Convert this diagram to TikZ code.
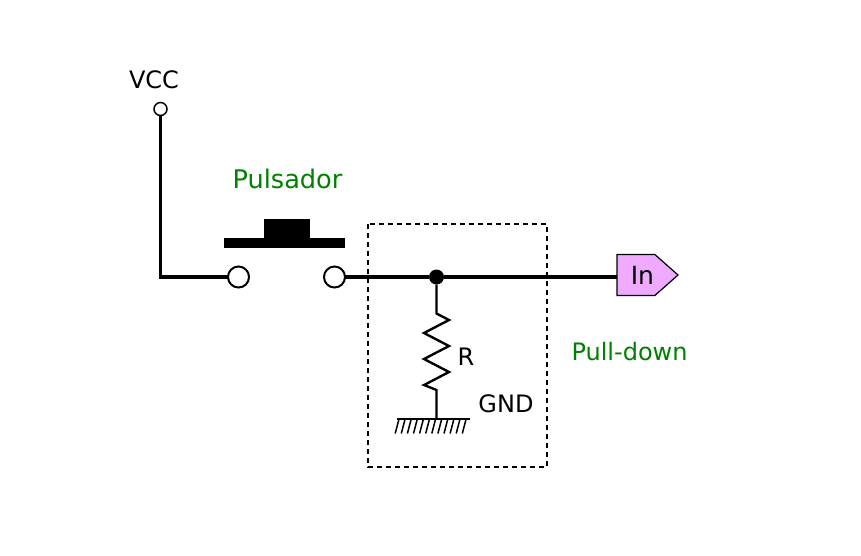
\documentclass[tikz,border=0pt]{standalone}
\usepackage{fontspec}
\setmainfont{DejaVu Sans}
\usepackage{xcolor}
\usetikzlibrary{shapes.symbols}
\definecolor{labelgreen}{RGB}{0,128,0}
\definecolor{inpink}{RGB}{238,170,255}
\tikzset{
  wire/.style={line width=3.6pt},
  thinwire/.style={line width=2.4pt},
  term/.style={circle,draw,fill=white,line width=2pt,minimum size=21pt,inner sep=0pt,outer sep=0pt},
  lbl/.style={inner sep=0pt,font=\fontsize{24}{28}\selectfont},
  greenlbl/.style={lbl,text=labelgreen},
}
\begin{document}
\begin{tikzpicture}[x=1pt,y=-1pt]
\useasboundingbox (0,0) rectangle (861,555);
\def\gndy{419}
% wires first, the terminals sit on top
  \coordinate (rtop) at (436.5,313.5);
  \coordinate (rbot) at (436.5,390);
  \coordinate (gnd) at (436.5,\gndy);
  \coordinate (gndl) at (397,\gndy);
  \coordinate (gndr) at (469.5,\gndy);
  \node[term,line width=1.5pt,minimum size=13pt] (vcc) at (160.5,109) {};
  \node[term] (swl) at (238.5,277) {};
  \node[term] (swr) at (334.5,277) {};
  \node[circle,fill,minimum size=15pt,inner sep=0pt] (junc) at (436.5,277) {};
  \node[signal,signal to=east,signal pointer angle=83,draw,fill=inpink,line width=1.2pt,
        minimum width=61pt,minimum height=41pt,inner sep=0pt,outer sep=0pt,anchor=west,
        font=\fontsize{25}{28}\selectfont] (in) at (617,275) {\hspace{13pt}In};
  \draw[wire,line join=miter] (vcc) |- (swl);
  \draw[wire] (swr) -- (junc) -- (in.west |- junc);
  % resistor
  \draw[thinwire] (junc) -- (rtop) -- ++(12.5,6.5)
        -- ++(-25,13) -- ++(25,13) -- ++(-25,13) -- ++(25,13) -- ++(-25,13)
        -- (rbot) -- (gnd);
  % ground
  \draw[thinwire] (gndl) -- (gndr);
  \foreach \i in {0,...,11}
    \draw[line width=1.5pt] (399+6.1*\i,\gndy) -- ++(-3.8,14.5);
  % push button
  \fill (223.5,237.5) rectangle (345,247.5);
  \fill (264,218.5) rectangle (309.5,237.5);
  \draw[line width=1.5pt,dashed,dash pattern=on 5pt off 4pt] (368,224) rectangle (547,467);
  \node[lbl] (vcclbl) at (154,80) {VCC};
  \node[greenlbl,font=\fontsize{25.6}{28}\selectfont] (pulsador) at (287.5,179) {Pulsador};
  \node[greenlbl] (pulldown) at (629.5,352) {Pull-down};
  \node[lbl] (rlbl) at (466,357) {R};
  \node[lbl] (gndlbl) at (506,404) {GND};
\end{tikzpicture}
\end{document}
